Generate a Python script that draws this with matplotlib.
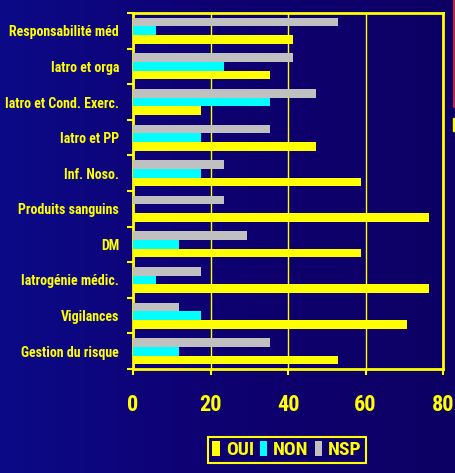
import numpy as np
import matplotlib.pyplot as plt
from matplotlib.colors import LinearSegmentedColormap
from matplotlib.patches import Rectangle
from matplotlib.lines import Line2D

# reponses en % (effectif 17), de haut en bas
themes = ['Responsabilité méd', 'Iatro et orga', 'Iatro et Cond. Exerc.', 'Iatro et PP',
          'Inf. Noso.', 'Produits sanguins', 'DM', 'Iatrogénie médic.', 'Vigilances',
          'Gestion du risque']
oui = [41.2, 35.3, 17.6, 47.1, 58.8, 76.5, 58.8, 76.5, 70.6, 52.9]
non = [5.9, 23.5, 35.3, 17.6, 17.6, 0, 11.8, 5.9, 17.6, 11.8]
nsp = [52.9, 41.2, 47.1, 35.3, 23.5, 23.5, 29.4, 17.6, 11.8, 35.3]

jaune = '#ffff00'
cyan = '#00ffff'
gris = '#c0c0c0'
police = ['Roboto Condensed', 'Archivo Narrow', 'DejaVu Sans']

fig = plt.figure(figsize=(4.55, 4.73), dpi=100)

# fond degrade bleu
bg = fig.add_axes([0, 0, 1, 1], zorder=-10)
cmap = LinearSegmentedColormap.from_list('fond', ['#0c0a88', '#0e0070', '#0d0064'])
bg.imshow(np.tile(np.linspace(0, 1, 256), (2, 1)), cmap=cmap, aspect='auto',
          extent=[0, 1, 0, 1])
bg.axis('off')

ax = fig.add_axes([133 / 455, 1 - 369 / 473, 310 / 455, 356 / 473])
ax.set_facecolor('none')

y = np.arange(len(themes))
h = 0.245
ax.barh(y - h, nsp, height=h, color=gris, label='NSP', zorder=3)
ax.barh(y, non, height=h, color=cyan, label='NON', zorder=3)
ax.barh(y + h, oui, height=h, color=jaune, label='OUI', zorder=3)

ax.set_xlim(0, 80)
ax.set_ylim(len(themes) - 0.5, -0.5)
ax.set_xticks([0, 20, 40, 60, 80])
ax.set_yticks(y)
ax.set_yticklabels(themes)
ax.set_yticks(np.arange(len(themes) + 1) - 0.5, minor=True)
ax.grid(axis='x', color=jaune, linewidth=1.0, zorder=1)

for s in ax.spines.values():
    s.set_color(jaune)
    s.set_linewidth(2)

ax.tick_params(axis='y', which='major', length=0, pad=10, labelcolor=jaune)
ax.tick_params(axis='y', which='minor', length=4, width=1.5, color=jaune)
ax.tick_params(axis='x', length=4, width=1.5, color=jaune, labelcolor=jaune, pad=14)
for t in ax.get_yticklabels():
    t.set_family(police)
    t.set_fontweight('bold')
    t.set_fontsize(10)
for t in ax.get_xticklabels():
    t.set_family(police)
    t.set_fontweight('bold')
    t.set_fontsize(16)

handles, labels = ax.get_legend_handles_labels()
leg = fig.legend(handles[::-1], labels[::-1], ncol=3, loc='center',
                 bbox_to_anchor=(287 / 455, 1 - 450 / 473),
                 prop={'family': police, 'weight': 'bold', 'size': 14},
                 handlelength=0.4, handleheight=0.8, handletextpad=0.3,
                 columnspacing=0.3, borderpad=0.2, fancybox=False,
                 edgecolor=jaune, facecolor='none', framealpha=1)
leg.get_frame().set_linewidth(1.5)
for t in leg.get_texts():
    t.set_color(jaune)

# bord du cadre voisin, coupe a droite
fig.add_artist(Line2D([453.5 / 455, 453.5 / 455, 1], [1, 1 - 107 / 473, 1 - 107 / 473],
                      color='#e03040', linewidth=1.2))
fig.add_artist(Rectangle((453 / 455, 1 - 131 / 473), 2 / 455, 13 / 473,
                         color=jaune, transform=fig.transFigure))

fig.savefig('out.png', dpi=100)
